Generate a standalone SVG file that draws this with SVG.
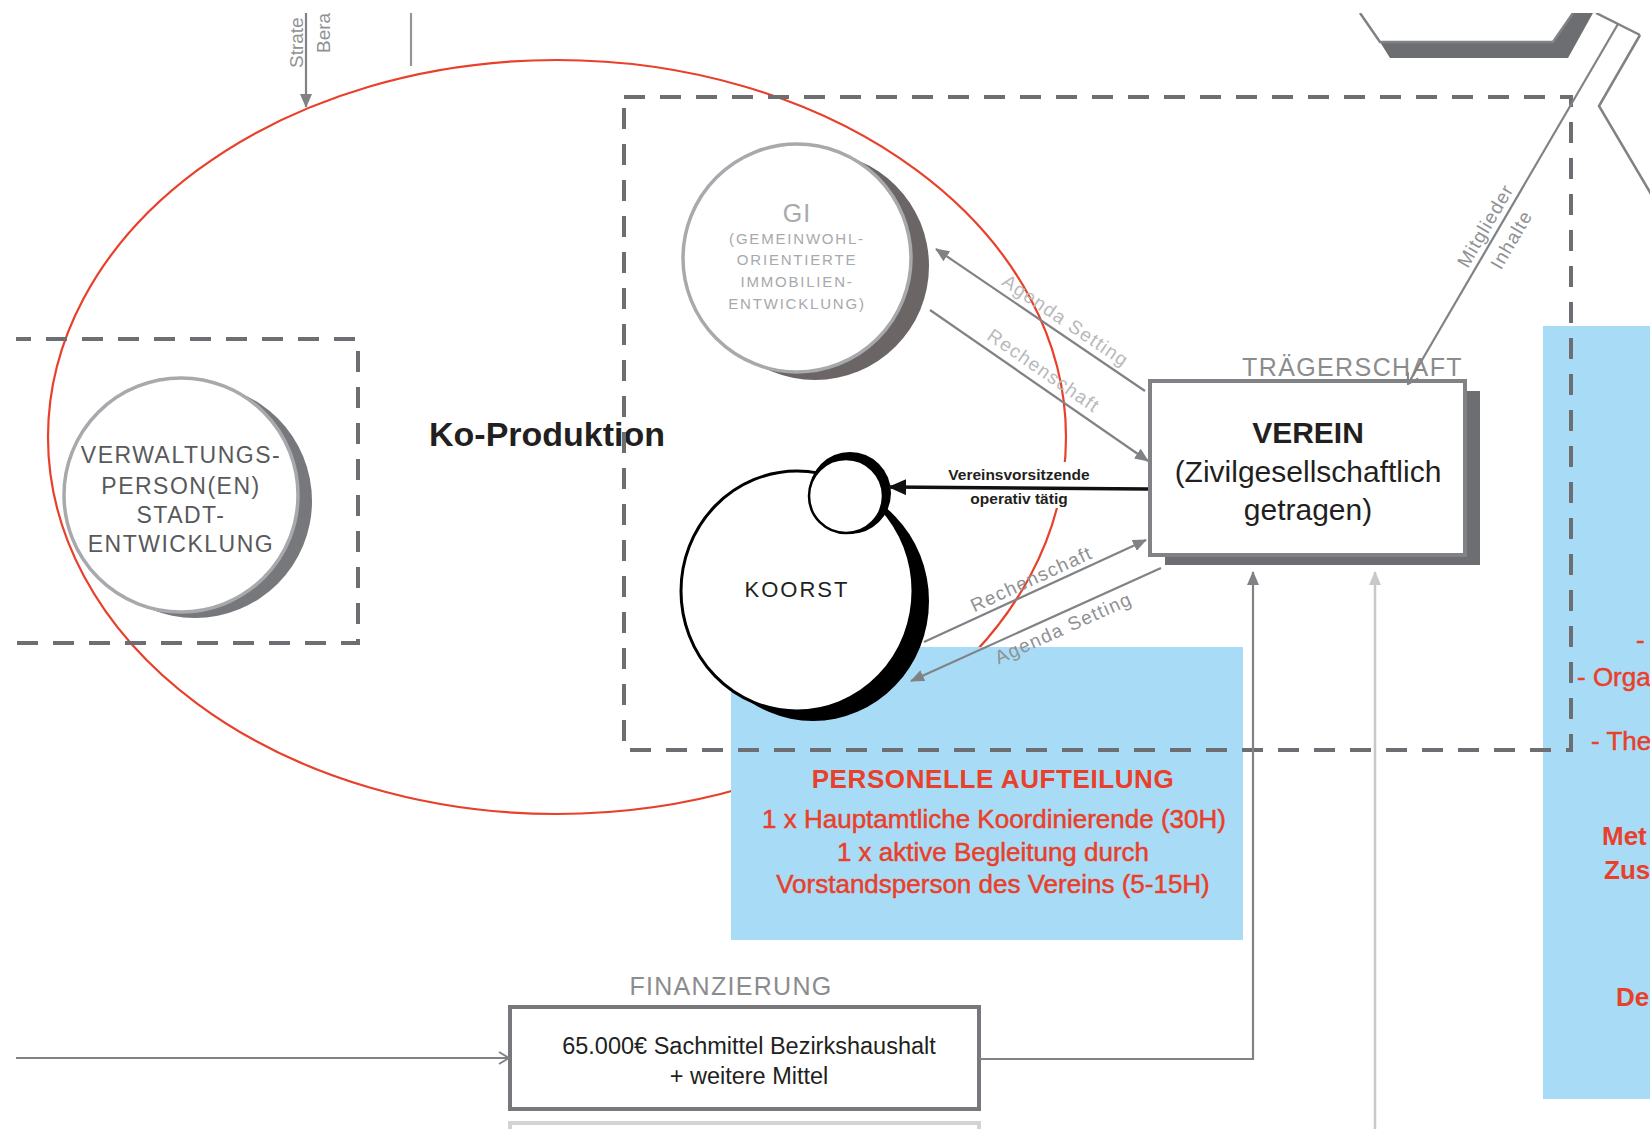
<svg xmlns="http://www.w3.org/2000/svg" width="1650" height="1129" viewBox="0 0 1650 1129">
<defs>
<style>
text{font-family:"Liberation Sans",Arial,Helvetica,sans-serif}
.dash{fill:none;stroke:#6d6e71;stroke-width:4;stroke-dasharray:21 15}
.gl{fill:none;stroke:#808285;stroke-width:2.2}
.lab{font-size:19px;letter-spacing:1.3px}
.lgt{fill:#b7b9bb}
.mid{fill:#8f9194}
.red{fill:#e8402a;stroke:#e8402a;stroke-width:0.5}
.redb{fill:#e8402a;font-weight:bold}
.cap{fill:#8a8c8e;font-size:25px}
</style>
<marker id="ah" viewBox="0 0 14 12" refX="13" refY="6" markerWidth="14" markerHeight="12" markerUnits="userSpaceOnUse" orient="auto"><path d="M0,0 L14,6 L0,12 Z" fill="#808285"/></marker>
<marker id="ahl" viewBox="0 0 14 12" refX="13" refY="6" markerWidth="14" markerHeight="12" markerUnits="userSpaceOnUse" orient="auto"><path d="M0,0 L14,6 L0,12 Z" fill="#c7c8ca"/></marker>
<marker id="ahb" viewBox="0 0 18 16" refX="17" refY="8" markerWidth="18" markerHeight="16" markerUnits="userSpaceOnUse" orient="auto"><path d="M0,0 L18,8 L0,16 Z" fill="#111"/></marker>
<marker id="aho" viewBox="0 0 12 14" refX="11" refY="7" markerWidth="12" markerHeight="14" markerUnits="userSpaceOnUse" orient="auto"><path d="M1,1 L11,7 L1,13" fill="none" stroke="#808285" stroke-width="2"/></marker>
<clipPath id="clip"><rect x="16" y="13" width="1634" height="1116"/></clipPath>
</defs>
<rect width="1650" height="1129" fill="#fff"/>
<g clip-path="url(#clip)">

<g id="hexagon-top">
<polygon points="1380,42 1390,58 1568,58 1593,13 1573,13 1553,42" fill="#6d6e71"/>
<polyline points="1360,13 1380,42 1553,42 1573,13" fill="none" stroke="#808285" stroke-width="2.5"/>
<line x1="1596" y1="13" x2="1640" y2="35" stroke="#808285" stroke-width="2.5"/>
<polyline points="1640,35 1599,106 1654,199" fill="none" stroke="#808285" stroke-width="2.5"/>
</g>

<g id="strategie">
<text transform="translate(303,68) rotate(-90)" font-size="19" fill="#8f9194">Strate</text>
<text transform="translate(330,53) rotate(-90)" font-size="19" fill="#8f9194">Bera</text>
<line x1="411" y1="13" x2="411" y2="66" stroke="#939598" stroke-width="2.2"/>
</g>

<g id="verwaltung">
<circle cx="195" cy="501" r="117" fill="#77787b"/>
<circle cx="181" cy="495" r="117" fill="#fff" stroke="#a7a9ac" stroke-width="3.5"/>
<g font-size="23" fill="#58595b" text-anchor="middle" letter-spacing="1.5">
<text x="181" y="463">VERWALTUNGS-</text>
<text x="181" y="494">PERSON(EN)</text>
<text x="181" y="523">STADT-</text>
<text x="181" y="552">ENTWICKLUNG</text>
</g>
</g>

<g id="gi">
<circle cx="815" cy="266" r="114" fill="#6b6665"/>
<circle cx="797" cy="258" r="114" fill="#fff" stroke="#a7a9ac" stroke-width="3.5"/>
<g fill="#a7a9ac" text-anchor="middle">
<text x="797" y="222" font-size="25" letter-spacing="1">GI</text>
<g font-size="15" letter-spacing="1.8">
<text x="797" y="244">(GEMEINWOHL-</text>
<text x="797" y="265">ORIENTIERTE</text>
<text x="797" y="287">IMMOBILIEN-</text>
<text x="797" y="309">ENTWICKLUNG)</text>
</g>
</g>
</g>

<g id="ko-produktion">
<ellipse cx="557" cy="437" rx="509" ry="377" fill="none" stroke="#e8402a" stroke-width="2.2"/>
<text x="429" y="446" font-size="34" font-weight="bold" fill="#231f20">Ko-Produktion</text>
</g>

<g id="personelle-aufteilung">
<rect x="731" y="647" width="512" height="293" fill="#a8dcf6"/>
<g text-anchor="middle">
<text class="redb" x="993" y="788" font-size="26" letter-spacing="0.6">PERSONELLE AUFTEILUNG</text>
<g class="red" font-size="26">
<text x="994" y="828">1 x Hauptamtliche Koordinierende (30H)</text>
<text x="993" y="861">1 x aktive Begleitung durch</text>
<text x="993" y="893">Vorstandsperson des Vereins (5-15H)</text>
</g>
</g>
</g>

<g id="right-panel">
<rect x="1543" y="326" width="120" height="773" fill="#a8dcf6"/>
<g class="red" font-size="26">
<text x="1636" y="649">-</text>
<text x="1577" y="686">- Orga</text>
<text x="1591" y="750">- The</text>
</g>
<g class="redb" font-size="26">
<text x="1602" y="845">Met</text>
<text x="1604" y="879">Zus</text>
<text x="1616" y="1006">De</text>
</g>
</g>

<g id="frames">
<path class="dash" d="M10,339 H358 V643 H10"/>
<rect class="dash" x="624" y="97" width="947" height="653"/>
</g>

<g id="koorst">
<ellipse cx="813" cy="601" rx="116" ry="120" fill="#000"/>
<ellipse cx="797" cy="591" rx="116" ry="120" fill="#fff" stroke="#000" stroke-width="3"/>
<circle cx="850" cy="493" r="41" fill="#000"/>
<circle cx="846" cy="496" r="37" fill="#fff" stroke="#000" stroke-width="2.5"/>
<text x="797" y="597" font-size="22" letter-spacing="2" text-anchor="middle" fill="#231f20">KOORST</text>
</g>

<g id="verein">
<rect x="1165" y="391" width="315" height="174" fill="#6d6e71"/>
<rect x="1150" y="381" width="315" height="174" fill="#fff" stroke="#808285" stroke-width="4"/>
<text x="1242" y="376" class="cap" letter-spacing="1.4">TRÄGERSCHAFT</text>
<g text-anchor="middle" fill="#231f20" font-size="30">
<text x="1308" y="443" font-weight="bold">VEREIN</text>
<text x="1308" y="482">(Zivilgesellschaftlich</text>
<text x="1308" y="520">getragen)</text>
</g>
</g>

<g id="finanzierung">
<text x="731" y="995" class="cap" text-anchor="middle" letter-spacing="1.3">FINANZIERUNG</text>
<rect x="510" y="1007" width="469" height="102" fill="#fff" stroke="#77787b" stroke-width="4"/>
<g text-anchor="middle" font-size="23.5" fill="#231f20">
<text x="749" y="1054">65.000€ Sachmittel Bezirkshaushalt</text>
<text x="749" y="1084">+ weitere Mittel</text>
</g>
<rect x="510" y="1123" width="469" height="40" fill="none" stroke="#d1d3d4" stroke-width="4"/>
</g>

<g id="connectors">
<line class="gl" x1="306" y1="13" x2="306" y2="107" marker-end="url(#ah)"/>
<line class="gl" x1="1618" y1="24" x2="1408" y2="384" marker-end="url(#aho)"/>
<line class="gl" x1="1145" y1="391" x2="936" y2="249" marker-end="url(#ah)"/>
<line class="gl" x1="930" y1="310" x2="1148" y2="461" marker-end="url(#ah)"/>
<line class="gl" x1="924" y1="642" x2="1146" y2="540" marker-end="url(#ah)"/>
<line class="gl" x1="1161" y1="568" x2="911" y2="681" marker-end="url(#ah)"/>
<rect x="945" y="462" width="150" height="46" fill="#fff"/>
<line x1="1148" y1="489" x2="889" y2="487" stroke="#111" stroke-width="3.5" marker-end="url(#ahb)"/>
<line class="gl" x1="10" y1="1058" x2="509" y2="1058" stroke-width="2.5" marker-end="url(#aho)"/>
<path class="gl" d="M979,1059 H1253 V572" stroke-width="2.5" marker-end="url(#ah)"/>
<path d="M1375,1135 V572" fill="none" stroke="#c7c8ca" stroke-width="2.5" marker-end="url(#ahl)"/>
<g class="lab">
<text class="lgt" transform="translate(1062,326) rotate(34.2)" text-anchor="middle">Agenda Setting</text>
<text class="lgt" transform="translate(1040,376) rotate(34.7)" text-anchor="middle">Rechenschaft</text>
<text class="mid" transform="translate(1034,585) rotate(-24.7)" text-anchor="middle">Rechenschaft</text>
<text class="mid" transform="translate(1066,634) rotate(-24.3)" text-anchor="middle">Agenda Setting</text>
<text class="mid" transform="translate(1491,229) rotate(-59.8)" text-anchor="middle" letter-spacing="1">Mitglieder</text>
<text class="mid" transform="translate(1517,243) rotate(-59.8)" text-anchor="middle" letter-spacing="1">Inhalte</text>
</g>
<g font-size="15.5" font-weight="bold" fill="#231f20" text-anchor="middle">
<text x="1019" y="480">Vereinsvorsitzende</text>
<text x="1019" y="504">operativ tätig</text>
</g>
</g>

</g>
</svg>
